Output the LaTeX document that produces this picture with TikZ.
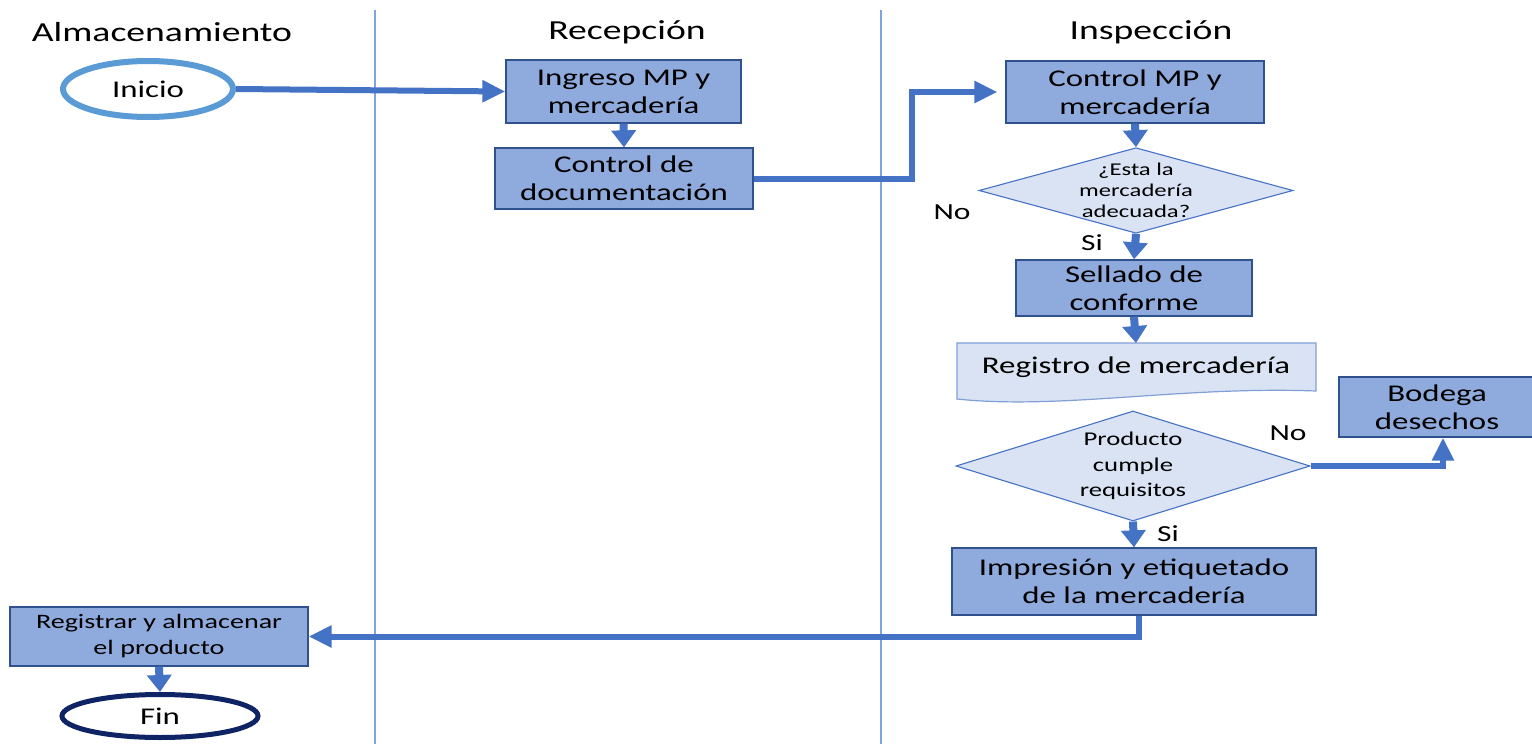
\documentclass[tikz,border=0pt]{standalone}
\usepackage{fontspec}
\setmainfont{Carlito}[FakeStretch=1.37]
\usetikzlibrary{arrows.meta,shapes.geometric}
\definecolor{arr}{HTML}{4472C4}
\definecolor{boxfill}{HTML}{8FAADC}
\definecolor{boxline}{HTML}{2F528F}
\definecolor{light}{HTML}{DAE3F3}
\definecolor{startc}{HTML}{5B9BD5}
\definecolor{endc}{HTML}{0E2465}
\definecolor{lanec}{HTML}{7FA3E0}
\newcommand{\fs}[2]{\fontsize{#1}{#2}\selectfont}
\tikzset{
  proc/.style={draw=boxline, line width=1.3pt, fill=boxfill, inner sep=0pt, align=center, font=\fs{24}{28}},
  dec/.style={diamond, draw=arr, line width=1.1pt, fill=light, inner sep=0pt, align=center},
  flow/.style={draw=arr, line width=6pt, -{Triangle[length=23pt,width=21pt]}},
  vflow/.style={draw=arr, line width=8pt, -{Triangle[length=17pt,width=24pt]}},
  lane/.style={draw=lanec, line width=1.3pt},
  hdr/.style={font=\fs{27.5}{32}, inner sep=0pt},
  lbl/.style={font=\fs{23}{26}, inner sep=0pt}
}
\begin{document}
\begin{tikzpicture}[x=1pt,y=-1pt]
\useasboundingbox (0,0) rectangle (1532,744);
% lanes
\draw[lane] (375,10) -- (375,744);
\draw[lane] (881,10) -- (881,744);
\node[hdr] (h1) at (162,32) {Almacenamiento};
\node[hdr] (h2) at (627,32) {Recepción};
\node[hdr] (h3) at (1151,32) {Inspección};
% nodes
\node[ellipse, draw=startc, line width=6pt, fill=white, minimum width=170pt, minimum height=56pt, inner sep=0pt, font=\fs{24}{28}] (ini) at (148,89) {Inicio};
\node[proc, minimum width=235pt, minimum height=63pt] (ing) at (623.5,91.5) {Ingreso MP y\\mercadería};
\node[proc, minimum width=258pt, minimum height=61pt] (cdoc) at (624,178.5) {Control de\\documentación};
\node[proc, minimum width=258pt, minimum height=62pt] (cmp) at (1135,92) {Control MP y\\mercadería};
\node[dec, aspect=3.67, minimum width=312pt, minimum height=85pt, font=\fs{18}{21}] (d1) at (1136,190.5) {¿Esta la\\mercadería\\adecuada?};
\node[proc, minimum width=236pt, minimum height=56pt] (sel) at (1134,288) {Sellado de\\conforme};
% document shape
\coordinate (regtop) at (1136,343);
\draw[draw=boxfill!80!arr, line width=1.2pt, fill=light] (957,343) -- (1316,343) -- (1316,391) .. controls (1180,386) and (1060,410) .. (957,399) -- cycle;
\node[font=\fs{24}{28}, inner sep=0pt] (reg) at (1136,367) {Registro de mercadería};
\node[dec, aspect=3.2, minimum width=354pt, minimum height=110pt, font=\fs{19.5}{25.5}] (d2) at (1133,466) {Producto\\cumple\\requisitos};
\node[proc, minimum width=196pt, minimum height=60pt] (bod) at (1437,407) {Bodega\\desechos};
\node[proc, minimum width=364pt, minimum height=67pt] (imp) at (1134,581.5) {Impresión y etiquetado\\de la mercadería};
\node[proc, minimum width=298pt, minimum height=59pt, font=\fs{20.5}{26}] (alm) at (159,636.5) {Registrar y almacenar\\el producto};
\node[ellipse, draw=endc, line width=5pt, fill=white, minimum width=196pt, minimum height=43pt, inner sep=0pt, font=\fs{24}{28}] (fin) at (160,716) {Fin};
% labels
\node[lbl] (no1) at (952,212) {No};
\node[lbl] (si1) at (1092,243) {Si};
\node[lbl] (no2) at (1288,433) {No};
\node[lbl] (si2) at (1168,534) {Si};
% connectors
\coordinate (jx) at (912,0);
\draw[flow] (ini.east) -- (ing.west);
\draw[vflow] (ing.south) -- (cdoc.north);
\draw[flow, shorten >=8pt] (cdoc.east) -- (cdoc.east -| jx) |- (cmp.west);
\draw[vflow] (cmp.south) -- (d1.north);
\draw[vflow] (d1.south) -- (sel.north);
\draw[vflow] (sel.south) -- (regtop);
\draw[flow] (d2.east) -| ([xshift=6pt]bod.south);
\draw[vflow] (d2.south) -- (imp.north);
\draw[flow] ([xshift=5pt]imp.south) |- (alm.east);
\draw[vflow] (alm.south) -- (fin.north);
\end{tikzpicture}
\end{document}
